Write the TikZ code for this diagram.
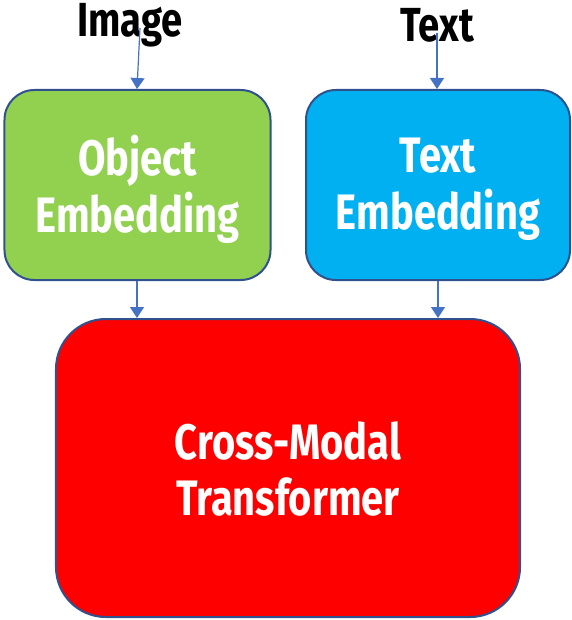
\documentclass[tikz,border=0pt]{standalone}
\usepackage{fontspec}
\setmainfont{Fira Sans}[FakeStretch=0.8]
\usetikzlibrary{arrows.meta}
\definecolor{boxgreen}{HTML}{92D050}
\definecolor{boxblue}{HTML}{00B0F0}
\definecolor{boxred}{HTML}{FF0000}
\definecolor{edge}{HTML}{2F528F}
\definecolor{arrowblue}{HTML}{4472C4}
\tikzset{
  module/.style={draw=edge, line width=2bp, rounded corners=#1, inner sep=0pt},
  modtext/.style={text=white, font=\fontsize{50}{57}\selectfont\bfseries,
    align=center, inner sep=0pt},
  inlabel/.style={font=\fontsize{48}{50}\selectfont\bfseries, inner sep=0pt},
  flow/.style={draw=arrowblue, line width=1.2bp, -{Triangle[length=11bp,width=14bp]}}
}
\begin{document}
\begin{tikzpicture}[x=1bp,y=-1bp]
\useasboundingbox (0,0) rectangle (572,620);
% input boxes
\node[module=30, fill=boxgreen, minimum width=266bp, minimum height=190bp] (obj) at (137.5,185) {};
\node[modtext] (objtext) at ([yshift=-4bp]obj.center) {Object\\Embedding};
\node[module=30, fill=boxblue, minimum width=264bp, minimum height=190bp] (txt) at (438,185) {};
\node[modtext] (txttext) at ([yshift=-4bp]txt.center) {Text\\Embedding};
% fusion block
\node[module=50, fill=boxred, minimum width=464bp, minimum height=298bp] (cmt) at (288,468) {};
\node[modtext] (cmttext) at ([yshift=-1bp]cmt.center) {Cross-Modal\\Transformer};
% input labels
\node[inlabel, anchor=base] (img) at (130,37) {Image};
\node[inlabel, anchor=base] (tin) at (437,42) {Text};
\coordinate (imgfoot) at (140,28);
\coordinate (tinfoot) at (437,33);
% connectors
\draw[flow] (imgfoot) -- (obj.north -| 137,0);
\draw[flow] (tinfoot) -- (txt.north -| 437,0);
\draw[flow] (obj.south -| 137,0) -- (cmt.north -| 137,0);
\draw[flow] (txt.south -| 438,0) -- (cmt.north -| 438,0);
\end{tikzpicture}
\end{document}
